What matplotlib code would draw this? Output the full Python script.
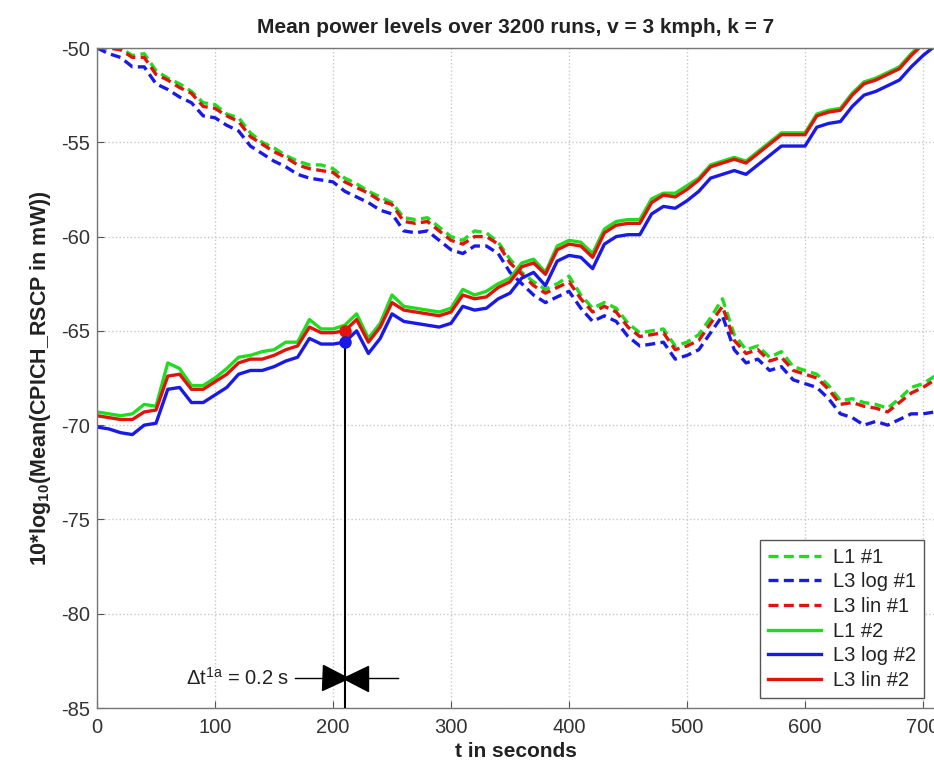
import numpy as np
import matplotlib
matplotlib.use("Agg")
import matplotlib.pyplot as plt

plt.rcParams['font.family'] = ['Liberation Sans', 'DejaVu Sans']
plt.rcParams['mathtext.fontset'] = 'custom'
plt.rcParams['mathtext.rm'] = 'Liberation Sans'
plt.rcParams['mathtext.it'] = 'Liberation Sans'
plt.rcParams['mathtext.bf'] = 'Liberation Sans:bold'
plt.rcParams['axes.unicode_minus'] = False

# ---------------- data ----------------
t = np.arange(0, 720, 10)

# Descending curves (#1, dashed)
l1_1 = [-50.0, -49.9, -50.0, -50.4, -50.3, -51.2, -51.6, -51.9, -52.3, -52.9,
        -53.0, -53.5, -53.7, -54.5, -55.0, -55.3, -55.7, -56.0, -56.2, -56.2,
        -56.4, -56.9, -57.2, -57.6, -57.9, -58.2, -59.0, -59.1, -59.0, -59.5,
        -60.0, -60.2, -59.7, -59.8, -60.3, -61.2, -61.9, -62.4, -62.8, -62.5,
        -62.1, -63.1, -63.8, -63.5, -63.8, -64.6, -65.1, -65.0, -64.9, -65.8,
        -65.6, -65.2, -64.3, -63.3, -65.2, -66.0, -65.8, -66.4, -66.1, -66.9,
        -67.1, -67.3, -67.9, -68.7, -68.6, -68.8, -68.9, -69.1, -68.6, -68.0,
        -67.8, -67.4]
l3log_1 = [-50.0, -50.3, -50.5, -51.0, -51.0, -51.9, -52.2, -52.6, -52.9, -53.6,
           -53.7, -54.1, -54.4, -55.2, -55.6, -56.0, -56.3, -56.7, -56.9, -57.0,
           -57.1, -57.6, -57.9, -58.2, -58.6, -58.8, -59.7, -59.8, -59.7, -60.2,
           -60.7, -60.9, -60.5, -60.5, -60.9, -61.9, -62.5, -63.1, -63.5, -63.2,
           -62.9, -63.8, -64.5, -64.2, -64.5, -65.3, -65.8, -65.7, -65.6, -66.5,
           -66.3, -66.0, -65.1, -64.2, -66.0, -66.7, -66.5, -67.1, -66.9, -67.6,
           -67.8, -68.0, -68.6, -69.4, -69.6, -70.0, -69.8, -70.0, -69.7, -69.4,
           -69.4, -69.3]
l3lin_1 = [-50.0, -50.0, -50.1, -50.5, -50.5, -51.4, -51.7, -52.1, -52.4, -53.1,
           -53.2, -53.6, -53.9, -54.7, -55.1, -55.5, -55.8, -56.2, -56.4, -56.5,
           -56.6, -57.1, -57.4, -57.7, -58.1, -58.3, -59.2, -59.3, -59.2, -59.7,
           -60.2, -60.4, -60.0, -60.0, -60.4, -61.4, -62.0, -62.6, -63.0, -62.7,
           -62.4, -63.3, -64.0, -63.7, -64.0, -64.8, -65.3, -65.2, -65.1, -66.0,
           -65.8, -65.5, -64.6, -63.7, -65.5, -66.2, -66.0, -66.6, -66.4, -67.1,
           -67.3, -67.5, -68.1, -68.9, -68.8, -69.0, -69.1, -69.3, -68.8, -68.3,
           -68.0, -67.6]

# Ascending curves (#2, solid)
l1_2 = [-69.3, -69.4, -69.5, -69.4, -68.9, -69.0, -66.7, -67.0, -67.9, -67.9,
        -67.5, -67.0, -66.4, -66.3, -66.1, -66.0, -65.6, -65.6, -64.4, -64.9,
        -64.9, -64.7, -64.1, -65.4, -64.6, -63.1, -63.7, -63.8, -63.9, -64.0,
        -63.8, -62.8, -63.1, -62.9, -62.5, -62.2, -61.4, -61.2, -61.9, -60.5,
        -60.2, -60.3, -60.9, -59.6, -59.2, -59.1, -59.1, -58.0, -57.7, -57.7,
        -57.3, -56.9, -56.2, -56.0, -55.8, -56.0, -55.5, -55.0, -54.5, -54.5,
        -54.5, -53.5, -53.3, -53.2, -52.4, -51.8, -51.6, -51.3, -51.0, -50.3,
        -49.7, -49.2]
l3log_2 = [-70.1, -70.2, -70.4, -70.5, -70.0, -69.9, -68.1, -68.0, -68.8, -68.8,
           -68.4, -68.0, -67.3, -67.1, -67.1, -66.9, -66.6, -66.4, -65.4, -65.7,
           -65.7, -65.6, -65.0, -66.2, -65.4, -64.1, -64.5, -64.6, -64.7, -64.8,
           -64.6, -63.7, -63.9, -63.8, -63.3, -63.0, -62.2, -61.9, -62.6, -61.3,
           -61.0, -61.1, -61.7, -60.4, -60.0, -59.9, -59.9, -58.8, -58.4, -58.5,
           -58.1, -57.6, -56.9, -56.7, -56.5, -56.7, -56.2, -55.7, -55.2, -55.2,
           -55.2, -54.2, -54.0, -53.9, -53.1, -52.5, -52.3, -52.0, -51.7, -51.0,
           -50.4, -49.9]
l3lin_2 = [-69.5, -69.6, -69.7, -69.7, -69.3, -69.2, -67.4, -67.3, -68.1, -68.1,
           -67.7, -67.3, -66.7, -66.5, -66.5, -66.3, -66.0, -65.8, -64.8, -65.1,
           -65.1, -65.0, -64.4, -65.6, -64.8, -63.5, -63.9, -64.0, -64.1, -64.2,
           -64.0, -63.1, -63.3, -63.2, -62.7, -62.4, -61.6, -61.4, -62.0, -60.7,
           -60.4, -60.5, -61.1, -59.8, -59.4, -59.3, -59.3, -58.2, -57.8, -57.9,
           -57.5, -57.0, -56.3, -56.1, -55.9, -56.1, -55.6, -55.1, -54.6, -54.6,
           -54.6, -53.6, -53.4, -53.3, -52.5, -51.9, -51.7, -51.4, -51.1, -50.4,
           -49.8, -49.3]

labels = ['L1 #1', 'L3 log #1', 'L3 lin #1', 'L1 #2', 'L3 log #2', 'L3 lin #2']

marker_t = 210
marker_lin = -65.0
marker_log = -65.6

xticks = [0, 100, 200, 300, 400, 500, 600, 700]
yticks = [-85, -80, -75, -70, -65, -60, -55, -50]

# ---------------- figure ----------------
fig = plt.figure(figsize=(9.34, 7.67), dpi=100)
ax = fig.add_axes([97/934, 59/767, 837/934, 660/767])

green = '#1fdc1f'
blue = '#1a1ae6'
red = '#e0140c'
lw = 2.4
dash = (3.0, 1.6)

ax.plot(t, l1_1, color=green, lw=lw, ls='--', dashes=dash, label=labels[0])
ax.plot(t, l3log_1, color=blue, lw=lw, ls='--', dashes=dash, label=labels[1])
ax.plot(t, l3lin_1, color=red, lw=lw, ls='--', dashes=dash, label=labels[2])
ax.plot(t, l1_2, color=green, lw=lw, label=labels[3])
ax.plot(t, l3log_2, color=blue, lw=lw, label=labels[4])
ax.plot(t, l3lin_2, color=red, lw=lw, label=labels[5])

# vertical marker line and dots
ax.plot([marker_t, marker_t], [-85, marker_lin], color='black', lw=1.5, zorder=5)
ax.plot(marker_t, marker_lin, 'o', color=red, ms=8, zorder=6)
ax.plot(marker_t, marker_log, 'o', color=blue, ms=8, zorder=6)

# delta t annotation
ya = -83.4
ax.plot([168, 255], [ya, ya], color='black', lw=1.0, zorder=5)
ax.plot(202, ya, marker='>', color='black', ms=18, zorder=6)
ax.plot(219, ya, marker='<', color='black', ms=18, zorder=6)
ax.text(163, ya, r'$\Delta$t$^{1a}$ = 0.2 s', ha='right', va='center',
        fontsize=14.5, color='#222222')

ax.set_xlim(0, 709.3)
ax.set_ylim(-85, -50)
ax.set_xticks(xticks)
ax.set_yticks(yticks)
ax.grid(True, color='#c8c8c8', ls=':', lw=1.0)
ax.tick_params(direction='in', length=5, color='#555555', labelsize=14.5,
               labelcolor='#333333', top=False, right=False, pad=7)
ax.tick_params(axis='y', pad=5)
for s in ['left', 'bottom', 'top']:
    ax.spines[s].set_color('#777777')
    ax.spines[s].set_linewidth(1.0)
ax.spines['right'].set_visible(False)

ax.set_title('Mean power levels over 3200 runs, v = 3 kmph, k = 7',
             fontsize=15, fontweight='bold', color='#222222', pad=11)
ax.set_xlabel('t in seconds', fontsize=15, fontweight='bold', color='#222222', labelpad=4)
ax.set_ylabel(r'10*log$_{\mathbf{10}}$(Mean(CPICH_RSCP in mW))', fontsize=15.5,
              fontweight='bold', color='#222222', labelpad=6)

leg = ax.legend(loc='lower right', bbox_to_anchor=(1.0, 0.0), fontsize=14.5,
                frameon=True, fancybox=False, edgecolor='#555555',
                handlelength=2.6, handletextpad=0.6, borderpad=0.4,
                labelspacing=0.28, borderaxespad=0.5, framealpha=1)
leg.get_frame().set_linewidth(1.0)
for txt in leg.get_texts():
    txt.set_color('#222222')

fig.savefig('out.png', dpi=100)
